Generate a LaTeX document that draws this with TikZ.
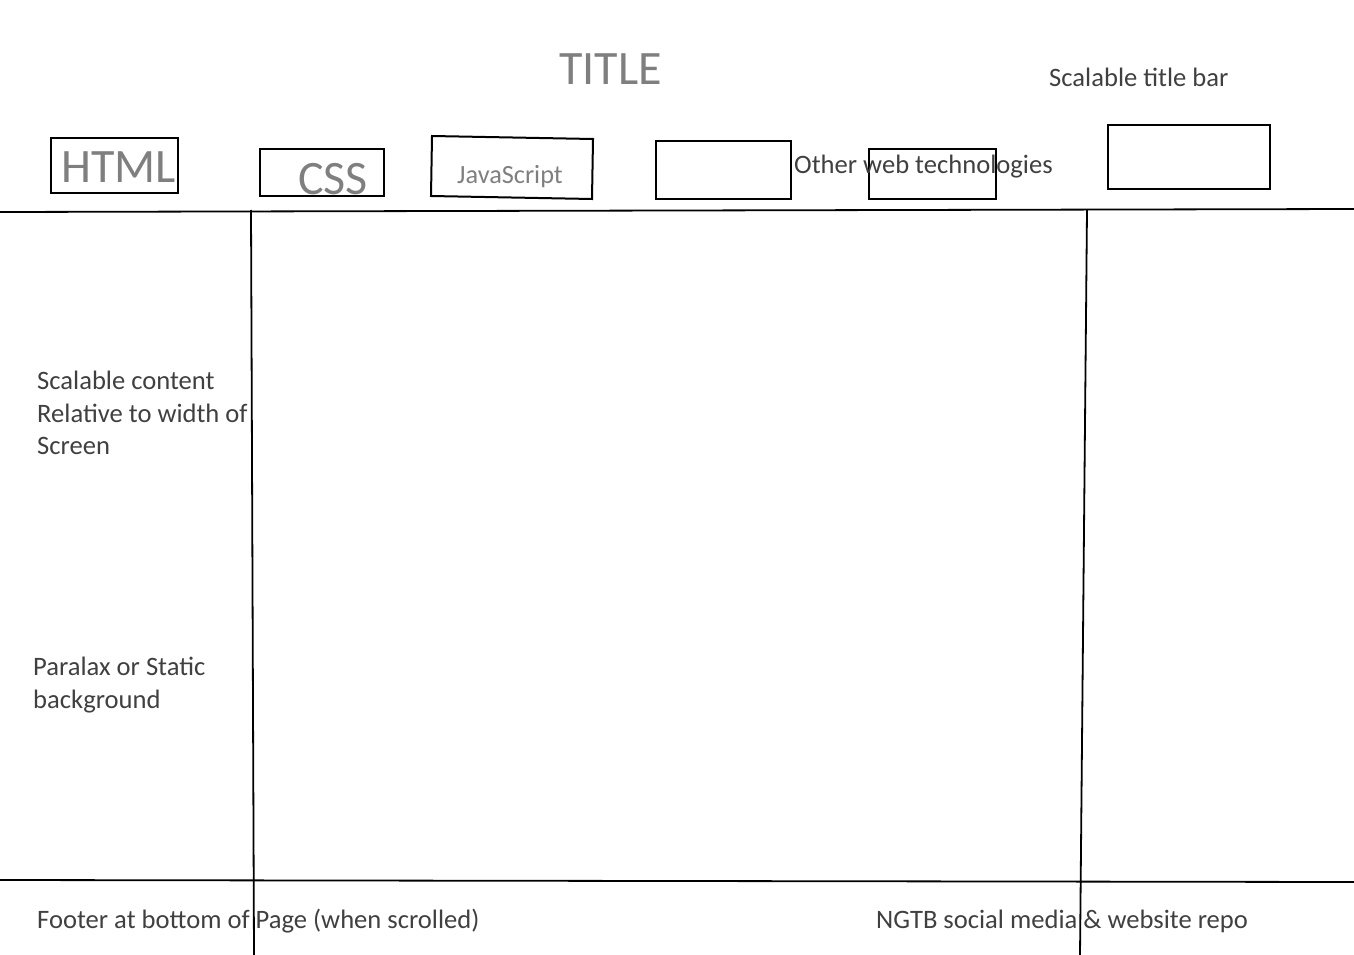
\documentclass[tikz,border=0pt]{standalone}
\usepackage{fontspec}
\setmainfont{Carlito}
\definecolor{lightink}{HTML}{7F7F7F}
\definecolor{darkink}{HTML}{404040}
\tikzset{
  box/.style={draw=black, line width=2pt},
  rule/.style={draw=black, line width=1.8pt},
  lbl/.style={inner sep=0pt, anchor=west, text=darkink, align=left,
    font=\fontsize{26.6}{32.5}\selectfont},
  biglbl/.style={inner sep=0pt, anchor=west, text=lightink,
    font=\fontsize{48}{54}\selectfont},
  smalllbl/.style={inner sep=0pt, anchor=west, text=lightink,
    font=\fontsize{26.3}{31}\selectfont}
}
\begin{document}
\begin{tikzpicture}[x=1pt,y=-1pt]
\useasboundingbox (0,0) rectangle (1354,955);
% lines
\coordinate (tl) at (0,212);
\coordinate (tr) at (1354,209);
\coordinate (bl) at (0,880);
\coordinate (br) at (1354,882);
\coordinate (v1t) at (251,210);
\coordinate (v1b) at (254,955);
\coordinate (v2t) at (1087,210);
\coordinate (v2b) at (1080,955);
\draw[rule] (tl) -- (tr);
\draw[rule] (bl) -- (br);
\draw[rule] (v1t) -- (v1b);
\draw[rule] (v2t) -- (v2b);
% boxes
\draw[box] (51,138) rectangle (178,193);
\draw[box] (260,149) rectangle (384,196);
\draw[box] (432,136) -- (593,139) -- (592,199) -- (431,196) -- cycle;
\draw[box] (656,141) rectangle (791,199);
\draw[box] (869,149) rectangle (996,199);
\draw[box] (1108,125) rectangle (1270,189);
% texts
\node[biglbl] (title) at (559,69) {TITLE};
\node[lbl] (titlebar) at (1049,77) {Scalable title bar};
\node[biglbl] (html) at (61,167) {HTML};
\node[biglbl] (css) at (298,179) {CSS};
\node[smalllbl] (js) at (457,177) {JavaScript};
\node[lbl] (other) at (794,167) {Other web technologies};
\node[lbl] (content) at (37,413) {Scalable content\\Relative to width of\\Screen};
\node[lbl] (bg) at (33,685) {Paralax or Static\\background};
\node[lbl] (footer) at (37,921) {Footer at bottom of Page (when scrolled)};
\node[lbl] (ngtb) at (876,921) {NGTB social media \& website repo};
\end{tikzpicture}
\end{document}
